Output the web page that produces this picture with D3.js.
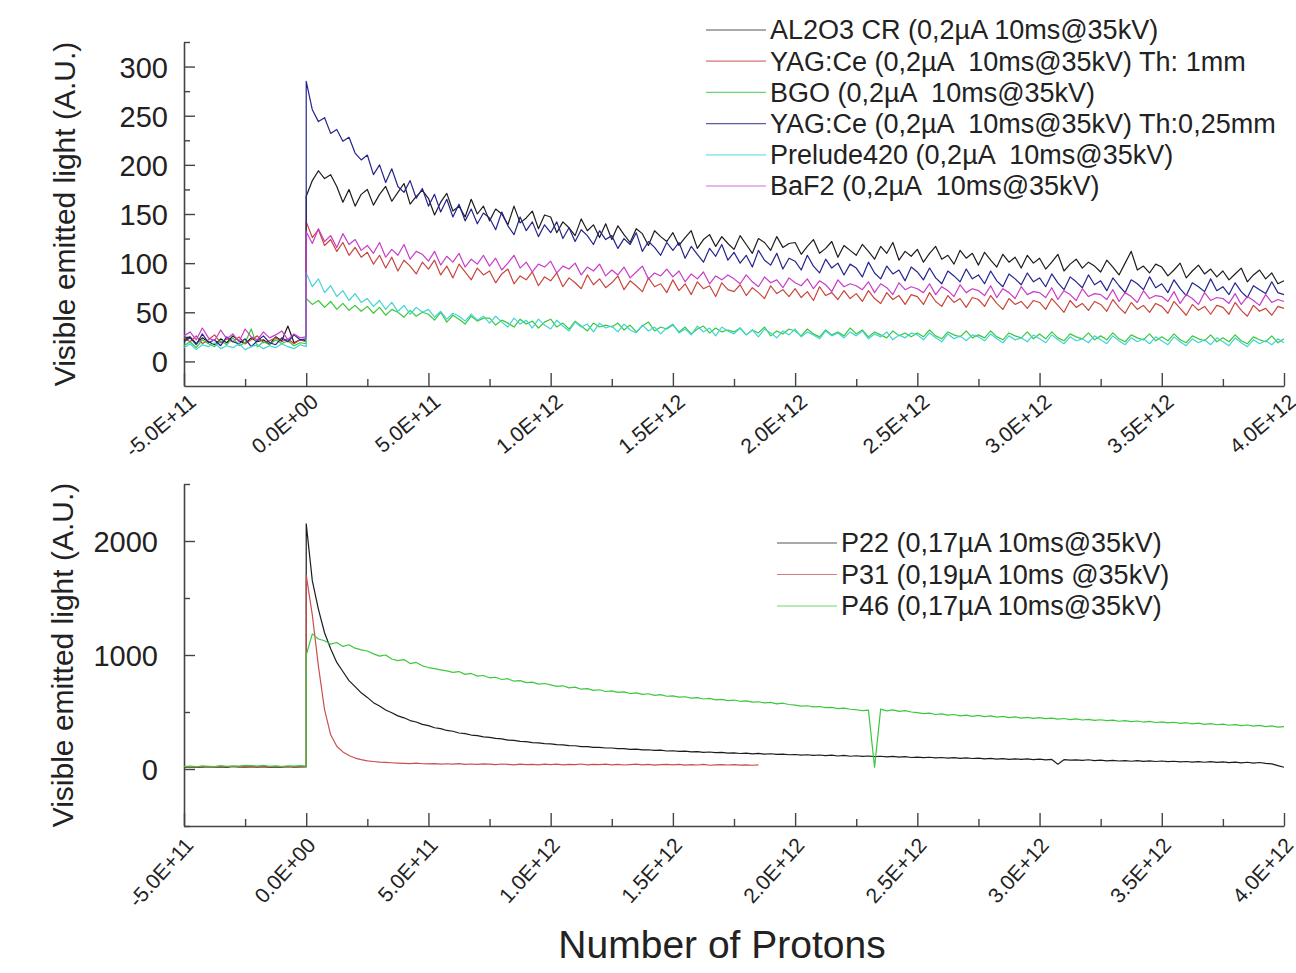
<!DOCTYPE html>
<html>
<head>
<meta charset="utf-8">
<script src="https://cdn.jsdelivr.net/npm/d3@7"></script>
<style>
  body { margin: 0; background: #fff; }
  text { font-family: "Liberation Sans", Arial, sans-serif; fill: #222; }
</style>
</head>
<body>
<script>
// sampling of the traces (protons): pre = -5E11..0, post = 0..4E12
const xMin = -5e11, xMax = 4e12, step = 2.5e10;

const xTickValues = [-5e11, 0, 5e11, 1e12, 1.5e12, 2e12, 2.5e12, 3e12, 3.5e12, 4e12];
const xTickLabels = ["-5.0E+11", "0.0E+00", "5.0E+11", "1.0E+12", "1.5E+12", "2.0E+12", "2.5E+12", "3.0E+12", "3.5E+12", "4.0E+12"];

// ---- top panel ----
const topLabels = [
  "AL2O3 CR (0,2µA 10ms@35kV)",
  "YAG:Ce (0,2µA  10ms@35kV) Th: 1mm",
  "BGO (0,2µA  10ms@35kV)",
  "YAG:Ce (0,2µA  10ms@35kV) Th:0,25mm",
  "Prelude420 (0,2µA  10ms@35kV)",
  "BaF2 (0,2µA  10ms@35kV)"
];

const al2o3Pre = [22,25,18,24,20,17,23,19,26,21,18,24,20,22,17,25,21,36,19,22,21];
const al2o3Post = [
  168,184,194,186,190,178,162,175,158,170,
  175,159,170,178,163,172,181,160,168,174,
  166,149,162,171,153,158,147,165,150,158,
  143,155,150,139,158,141,146,153,135,149,
  147,131,142,136,128,145,133,139,126,140,
  124,138,129,121,135,130,118,133,127,122,
  131,118,126,133,115,124,129,117,127,120,
  114,128,119,110,125,121,113,127,116,120,
  121,109,117,124,110,115,122,106,118,113,
  108,119,112,104,117,110,121,103,112,107,
  114,101,110,117,104,108,99,113,105,110,
  98,111,103,96,109,101,106,95,108,100,
  105,94,101,109,92,99,104,95,101,97,
  91,103,96,88,100,112,93,97,90,99,
  96,87,93,100,85,92,98,89,94,86,
  92,83,89,95,81,88,93,84,90,79,
  82];

const yag1Pre = [24,20,26,18,22,27,19,23,20,25,18,22,26,19,21,24,20,23,18,22,20];
const yag1Post = [
  142,126,134,118,124,112,121,108,116,106,
  111,99,108,95,106,92,103,97,89,101,
  94,103,88,97,85,99,91,83,95,88,
  92,80,89,94,79,87,83,91,77,86,
  82,90,76,85,80,74,88,78,84,75,
  80,87,73,82,77,71,85,76,79,70,
  83,72,79,68,81,74,77,66,80,73,
  71,78,67,75,70,64,77,69,73,66,
  74,65,71,62,76,67,70,63,72,64,
  69,61,72,64,59,70,63,67,58,68,
  66,58,70,61,56,67,60,64,55,65,
  63,56,67,59,53,64,58,61,54,62,
  60,53,64,57,50,62,55,59,52,61,
  58,51,63,55,49,60,53,57,50,59,
  56,49,61,54,47,58,52,56,48,57,
  55,48,60,52,46,57,51,54,47,56,
  54];

const bgoPre = [16,20,14,22,18,15,21,17,24,16,19,33,15,20,17,22,18,21,16,19,18];
const bgoPost = [
  64,58,62,55,61,53,59,52,57,51,
  56,49,55,47,53,50,45,52,46,50,
  48,42,50,40,47,43,38,46,41,44,
  44,37,42,39,35,43,38,41,34,40,
  43,35,39,33,41,36,31,39,35,37,
  35,39,32,37,30,36,40,31,35,33,
  37,30,35,28,33,36,29,34,30,32,
  30,34,27,32,29,35,26,31,28,33,
  31,26,33,28,25,32,27,30,26,34,
  28,32,25,30,27,24,31,26,29,25,
  29,25,32,26,23,30,27,25,31,24,
  27,24,31,25,22,29,26,24,30,23,
  28,23,30,24,21,28,25,23,29,22,
  26,22,29,23,20,27,24,22,28,21,
  25,21,28,22,19,26,23,21,27,20,
  24,20,27,21,18,25,22,20,26,19,
  23];

const yag025Pre = [20,24,17,28,19,22,16,25,20,18,23,15,21,26,19,17,24,20,27,22,23];
const yag025Post = [
  285,256,244,248,232,236,224,228,212,205,
  210,190,200,182,196,178,172,184,166,176,
  158,170,152,165,147,160,143,155,140,151,
  146,134,152,138,129,147,133,142,127,139,
  131,142,125,136,122,134,128,119,133,124,
  128,115,125,119,131,112,122,116,108,121,
  113,121,105,117,109,101,115,107,119,103,
  111,100,108,96,113,103,98,110,94,105,
  102,93,108,97,90,104,95,100,88,99,
  95,86,101,90,84,97,89,93,82,96,
  91,83,95,85,79,92,87,81,94,84,
  88,79,92,82,76,89,84,78,90,81,
  85,76,89,80,73,86,81,75,88,78,
  82,72,85,77,70,83,79,73,86,75,
  79,70,83,74,67,80,76,71,84,72,
  76,68,80,71,65,77,73,69,81,70,
  68];

const preludePre = [14,18,12,17,15,19,13,16,14,18,12,15,17,13,16,14,18,15,13,17,15];
const preludePost = [
  90,76,84,70,77,66,72,62,69,60,
  64,56,62,53,60,51,57,48,55,50,
  53,45,51,43,49,46,41,48,42,46,
  39,46,40,35,44,38,42,34,43,37,
  33,42,36,31,40,35,38,30,39,34,
  36,30,38,32,29,37,31,35,28,34,
  38,29,33,27,36,30,34,26,35,31,
  28,34,27,32,25,33,29,24,31,27,
  33,25,30,27,23,31,26,29,24,30,
  26,31,23,28,25,30,22,27,24,29,
  27,22,29,24,20,28,23,26,21,27,
  25,21,28,23,19,26,22,24,20,27,
  23,19,27,22,18,25,21,23,19,26,
  22,18,26,21,17,24,20,23,18,25,
  21,17,25,20,16,23,19,22,17,24,
  20,16,24,19,15,22,18,21,17,23,
  19];

const baf2Pre = [26,30,22,34,24,21,32,23,28,20,33,25,22,30,24,27,31,22,28,24,25];
const baf2Post = [
  132,120,135,122,128,116,130,119,124,113,
  118,110,121,106,114,108,119,104,112,109,
  102,112,98,107,101,110,96,104,99,108,
  97,105,93,100,108,95,101,91,99,96,
  102,90,97,94,100,88,96,92,99,87,
  93,88,96,85,91,97,84,90,87,94,
  86,92,81,89,84,91,79,87,83,88,
  84,79,88,81,76,86,80,83,75,85,
  80,77,84,74,82,78,71,83,76,79,
  77,73,81,70,79,75,68,80,73,76,
  74,70,79,68,76,72,66,78,70,74,
  72,67,77,65,74,70,64,76,68,71,
  70,65,75,63,72,68,62,74,66,69,
  68,63,73,61,70,66,60,72,64,67,
  66,61,71,59,68,64,58,70,62,65,
  64,59,69,58,66,62,57,68,60,63,
  61];

// ---- bottom panel ----
const bottomLabels = [
  "P22 (0,17µA 10ms@35kV)",
  "P31 (0,19µA 10ms @35kV)",
  "P46 (0,17µA 10ms@35kV)"
];

const p22Pre = [15,18,14,17,20,16,19,15,22,18,16,20,17,21,15,19,17,22,16,18,20];
const p22Post = [
  2150,1650,1400,1195,1055,935,855,775,722,668,
  628,582,552,518,494,466,449,425,412,391,
  380,362,354,338,331,316,311,298,293,282,
  277,268,264,254,251,243,240,232,229,222,
  220,213,212,205,204,197,197,190,190,184,
  184,178,179,172,174,167,169,163,165,158,
  160,154,157,150,153,146,149,143,146,140,
  142,136,140,133,137,130,134,128,131,125,
  127,122,125,119,123,117,121,114,119,112,
  116,110,114,108,112,106,110,104,108,101,
  105,99,103,97,101,95,99,94,97,92,
  95,89,93,87,91,85,89,84,88,82,
  86,80,84,42,82,78,80,76,81,74,
  78,72,76,70,74,68,73,67,71,66,
  70,64,68,62,66,61,65,59,64,58,
  62,56,60,54,59,52,57,50,45,30,
  15];

const p31Pre = [18,20,17,21,19,16,20,18,22,17,19,21,18,20,16,22,19,17,21,18,19];
const p31Post = [
  1700,1350,900,520,300,200,150,118,96,82,
  72,66,61,58,55,52,50,48,51,46,
  45,48,43,46,42,47,41,44,40,45,
  42,39,44,40,37,43,39,41,36,42,
  39,43,37,41,38,44,36,40,38,42,
  37,41,35,39,42,36,40,34,38,41,
  36,40,34,38,35,41,33,37,39,35,
  38,34,37,33,36];

const p46Pre = [22,26,20,28,24,21,30,23,27,25,32,29,26,31,24,28,22,27,25,29,26];
const p46Post = [
  1000,1185,1140,1125,1095,1110,1075,1090,1060,1045,
  1035,1010,990,1000,965,950,960,925,935,905,
  890,880,870,860,848,855,830,838,815,820,
  800,805,785,792,770,775,758,762,745,750,
  738,725,730,712,718,700,705,690,695,680,
  686,672,676,662,668,655,660,646,652,638,
  642,630,634,622,626,614,619,607,611,600,
  605,594,598,586,590,580,584,572,577,566,
  560,552,555,545,548,538,541,530,534,524,
  520,512,516,15,525,510,518,505,512,500,
  495,485,490,478,484,472,478,466,472,462,
  470,460,466,455,461,451,457,447,453,444,
  450,442,447,437,443,433,440,430,436,426,
  432,424,429,419,425,415,421,412,418,408,
  414,405,410,400,406,396,402,392,398,388,
  394,384,390,380,386,376,382,372,378,368,
  372];

function toPoints(pre, post) {
  return pre.map((v, i) => [xMin + i * step, v])
    .concat(post.map((v, i) => [i * step, v]));
}

const topSeries = [
  { pts: toPoints(al2o3Pre, al2o3Post), color: "#1c1c1c" },
  { pts: toPoints(yag1Pre, yag1Post), color: "#c8463c" },
  { pts: toPoints(bgoPre, bgoPost), color: "#3cc83c" },
  { pts: toPoints(yag025Pre, yag025Post), color: "#24248e" },
  { pts: toPoints(preludePre, preludePost), color: "#40d4d4" },
  { pts: toPoints(baf2Pre, baf2Post), color: "#c83cc8" }
];
const bottomSeries = [
  { pts: toPoints(p22Pre, p22Post), color: "#1c1c1c" },
  { pts: toPoints(p31Pre, p31Post), color: "#c85050" },
  { pts: toPoints(p46Pre, p46Post), color: "#3cc83c" }
];

const W = 1296, H = 973;
const svg = d3.select("body").append("svg")
  .attr("width", W).attr("height", H);
svg.append("rect").attr("width", W).attr("height", H).attr("fill", "#fff");

const x = d3.scaleLinear().domain([xMin, xMax]).range([184, 1284]);

function panel(cfg) {
  const y = d3.scaleLinear().domain(cfg.yDomain).range(cfg.yRange);
  const g = svg.append("g");
  const axisColor = "#444";

  // minor ticks
  g.append("g").attr("transform", `translate(0,${cfg.yRange[0]})`)
    .call(d3.axisBottom(x).tickValues(xTickValues.slice(0, -1).map(v => v + 2.5e11))
      .tickSize(-7).tickSizeOuter(0).tickFormat(""))
    .call(a => a.select(".domain").remove());
  g.append("g").attr("transform", "translate(184,0)")
    .call(d3.axisLeft(y).tickValues(cfg.yMinor).tickSize(-6).tickSizeOuter(0).tickFormat(""))
    .call(a => a.select(".domain").remove());

  // major x axis
  const xa = g.append("g").attr("transform", `translate(0,${cfg.yRange[0]})`)
    .call(d3.axisBottom(x).tickValues(xTickValues).tickSize(-13).tickSizeOuter(0)
      .tickFormat((d, i) => xTickLabels[i]));
  xa.selectAll(".tick text")
    .attr("font-size", cfg.xFont).attr("text-anchor", "end")
    .attr("x", null).attr("y", null).attr("dy", null)
    .attr("transform", `translate(${cfg.labOff[0]},${cfg.labOff[1]}) rotate(${cfg.angle})`);

  // major y axis
  const ya = g.append("g").attr("transform", "translate(184,0)")
    .call(d3.axisLeft(y).tickValues(cfg.yMajor).tickSize(-11).tickSizeOuter(0)
      .tickPadding(cfg.yPad).tickFormat(d3.format("d")));
  ya.selectAll(".tick text").attr("font-size", 29).attr("dy", "0.36em");

  g.selectAll(".domain").attr("stroke", axisColor).attr("stroke-width", 1.6);
  g.selectAll(".tick line").attr("stroke", axisColor).attr("stroke-width", 1.4);
  g.selectAll("text").attr("fill", "#222").attr("font-family", '"Liberation Sans", Arial, sans-serif');

  // y title
  g.append("text")
    .attr("transform", `translate(${cfg.titleX},${d3.mean(cfg.yRange)}) rotate(-90)`)
    .attr("text-anchor", "middle").attr("font-size", 30).attr("dy", "0.35em")
    .attr("fill", "#333").text("Visible emitted light (A.U.)");

  const line = d3.line().x(d => x(d[0])).y(d => y(d[1]));
  g.append("g").selectAll("path").data(cfg.series).join("path")
    .attr("d", d => line(d.pts))
    .attr("fill", "none").attr("stroke", d => d.color)
    .attr("stroke-width", 1.2).attr("stroke-linejoin", "round");

  // legend
  const lg = g.append("g");
  cfg.labels.forEach((lab, i) => {
    const ly = cfg.legY + i * cfg.legDy;
    lg.append("line").attr("x1", cfg.legX).attr("x2", cfg.legX + 60)
      .attr("y1", ly).attr("y2", ly)
      .attr("stroke", cfg.series[i].color).attr("stroke-width", 1.2).attr("opacity", 0.75);
    lg.append("text").attr("x", cfg.legX + 64).attr("y", ly).attr("dy", "0.35em")
      .attr("font-size", 27).attr("fill", "#222").style("white-space", "pre").text(lab);
  });
}

panel({
  yDomain: [-25, 325], yRange: [386, 42],
  yMajor: [0, 50, 100, 150, 200, 250, 300],
  yMinor: [25, 75, 125, 175, 225, 275, 325],
  yPad: 16, titleX: 64, xFont: 21, angle: -40, labOff: [13, 18],
  series: topSeries, labels: topLabels,
  legX: 706, legY: 30, legDy: 31.2
});

panel({
  yDomain: [-500, 2500], yRange: [826, 484],
  yMajor: [0, 1000, 2000],
  yMinor: [-500, 500, 1500, 2500],
  yPad: 26, titleX: 62, xFont: 21, angle: -48, labOff: [10, 20],
  series: bottomSeries, labels: bottomLabels,
  legX: 777, legY: 543, legDy: 31.5
});

svg.append("text").attr("x", 722).attr("y", 958)
  .attr("text-anchor", "middle").attr("font-size", 39).attr("fill", "#222")
  .text("Number of Protons");
</script>
</body>
</html>
